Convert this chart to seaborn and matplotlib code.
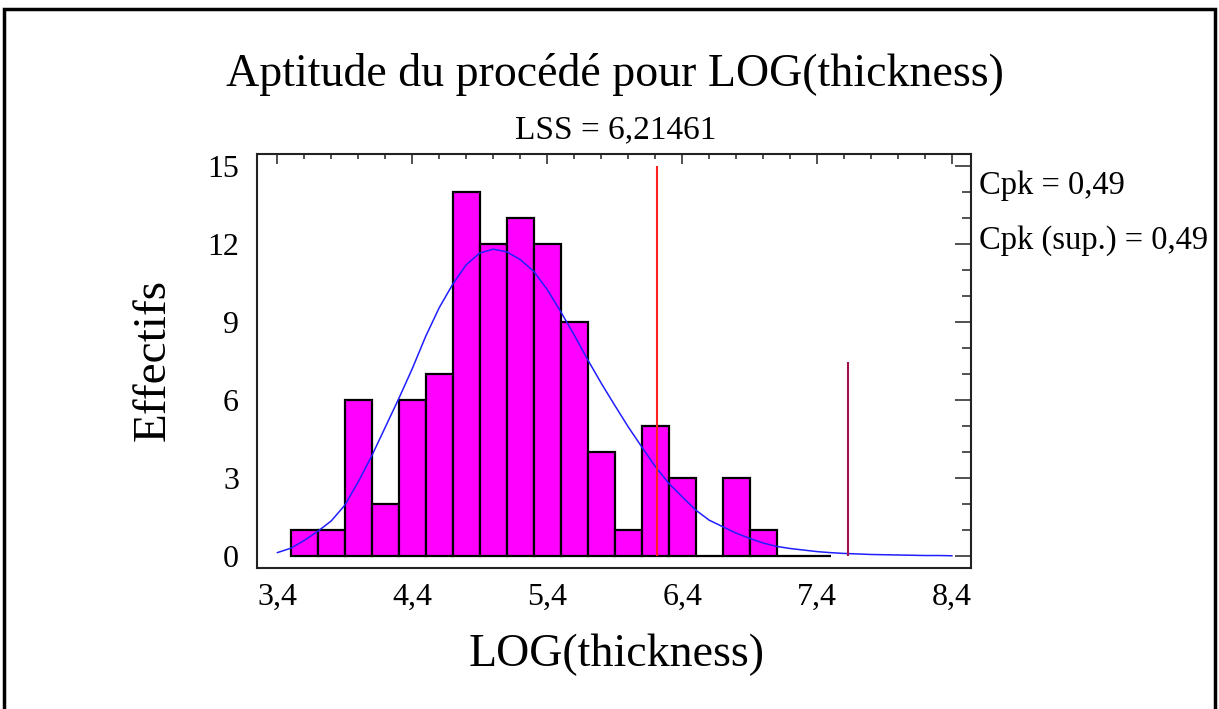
import matplotlib
matplotlib.use("Agg")
import numpy as np
import pandas as pd
import matplotlib.pyplot as plt
import seaborn as sns
from matplotlib.ticker import FixedLocator, FixedFormatter, MultipleLocator
from matplotlib.patches import Rectangle

# histogram of LOG(thickness), 20 classes of width 0.2
bin_edges = [3.5, 3.7, 3.9, 4.1, 4.3, 4.5, 4.7, 4.9, 5.1, 5.3, 5.5,
             5.7, 5.9, 6.1, 6.3, 6.5, 6.7, 6.9, 7.1, 7.3, 7.5]
counts = [1, 1, 6, 2, 6, 7, 14, 12, 13, 12, 9, 4, 1, 5, 3, 0, 3, 1, 0, 0]

# fitted density curve
curve_x = [3.4, 3.5, 3.6, 3.7, 3.8, 3.9, 4.0, 4.1, 4.2, 4.3, 4.4, 4.5, 4.6,
           4.7, 4.8, 4.9, 5.0, 5.1, 5.2, 5.3, 5.4, 5.5, 5.6, 5.7, 5.8, 5.9,
           6.0, 6.1, 6.2, 6.3, 6.4, 6.5, 6.6, 6.7, 6.8, 6.9, 7.0, 7.1, 7.2,
           7.3, 7.4, 7.5, 7.6, 7.7, 7.8, 7.9, 8.0, 8.1, 8.2, 8.3, 8.4]
curve_y = [0.13, 0.30, 0.60, 0.95, 1.35, 1.95, 2.85, 3.85, 4.95, 6.05, 7.20,
           8.45, 9.55, 10.45, 11.20, 11.65, 11.80, 11.70, 11.40, 10.95, 10.25,
           9.40, 8.50, 7.55, 6.65, 5.80, 4.97, 4.20, 3.45, 2.80, 2.28, 1.77,
           1.38, 1.13, 0.88, 0.68, 0.50, 0.37, 0.29, 0.23, 0.17, 0.13, 0.10,
           0.08, 0.06, 0.05, 0.04, 0.03, 0.02, 0.02, 0.01]

# specification limit and the short marker line
lss = 6.21461
lss_height = 15
marker_x = 7.626
marker_height = 7.45

x_ticks = [3.4, 4.4, 5.4, 6.4, 7.4, 8.4]
x_tick_labels = ["3,4", "4,4", "5,4", "6,4", "7,4", "8,4"]
y_ticks = [0, 3, 6, 9, 12, 15]
y_tick_labels = ["0", "3", "6", "9", "12", "15"]

title = "Aptitude du procédé pour LOG(thickness)"
subtitle = "LSS = 6,21461"
stats_lines = ["Cpk = 0,49", "Cpk (sup.) = 0,49"]

sns.set_theme(style="white")
plt.rcParams["font.family"] = ["Liberation Serif", "DejaVu Serif"]
plt.rcParams["text.color"] = "black"
plt.rcParams["xtick.color"] = "black"
plt.rcParams["ytick.color"] = "black"

fig = plt.figure(figsize=(12.19, 7.09), dpi=100)
ax = fig.add_axes([257 / 1219, 1 - 568 / 709, (971 - 257) / 1219, (568 - 154) / 709])

centers = [(a + b) / 2 for a, b in zip(bin_edges[:-1], bin_edges[1:])]
hist_df = pd.DataFrame({"x": centers, "n": counts})
sns.histplot(data=hist_df, x="x", weights="n", bins=bin_edges, ax=ax,
             color="#FF00FF", edgecolor="black", linewidth=1.6, alpha=1)

curve_df = pd.DataFrame({"x": curve_x, "y": curve_y})
sns.lineplot(data=curve_df, x="x", y="y", ax=ax, color="#1F1FFF", linewidth=1.1)

ax.vlines(lss, 0, lss_height, color="#FF2020", linewidth=1.5)
ax.vlines(marker_x, 0, marker_height, color="#A0104A", linewidth=1.5)

ax.set_xlim(3.25, 8.54)
ax.set_ylim(-0.46, 15.46)
ax.xaxis.set_major_locator(FixedLocator(x_ticks))
ax.xaxis.set_major_formatter(FixedFormatter(x_tick_labels))
ax.xaxis.set_minor_locator(MultipleLocator(0.2))
ax.yaxis.set_major_locator(FixedLocator(y_ticks))
ax.yaxis.set_major_formatter(FixedFormatter(y_tick_labels))
ax.yaxis.set_minor_locator(MultipleLocator(1))

ax.tick_params(axis="both", which="both", direction="in", top=True, right=True,
               color="#222222", labelcolor="black", width=1.1, labelsize=23)
ax.tick_params(axis="x", which="major", length=7.5, pad=11)
ax.tick_params(axis="x", which="minor", length=3.5)
ax.tick_params(axis="y", which="major", length=11.5, pad=13)
ax.tick_params(axis="y", which="minor", length=6.5)
for s in ax.spines.values():
    s.set_color("#222222")
    s.set_linewidth(1.5)
    s.set_visible(True)

ax.set_xlabel("")
ax.set_ylabel("")
fig.text(617 / 1219, 1 - 655 / 709, "LOG(thickness)", ha="center", va="center", fontsize=33)
fig.text(153 / 1219, 1 - 360 / 709, "Effectifs", ha="center", va="center",
         rotation=90, fontsize=34)
fig.text(615 / 1219, 1 - 75 / 709, title, ha="center", va="center", fontsize=33)
fig.text(616 / 1219, 1 - 130 / 709, subtitle, ha="center", va="center", fontsize=24)
fig.text(979 / 1219, 1 - 186 / 709, stats_lines[0], ha="left", va="center", fontsize=23.5)
fig.text(979 / 1219, 1 - 241 / 709, stats_lines[1], ha="left", va="center", fontsize=23.5)

# frame around the whole picture
fig.patches.append(Rectangle((4 / 1219, -0.05), 1211 / 1219, 1.05 - 9 / 709,
                             transform=fig.transFigure, fill=False,
                             edgecolor="black", linewidth=2.5))

fig.savefig("out.png", dpi=100)
